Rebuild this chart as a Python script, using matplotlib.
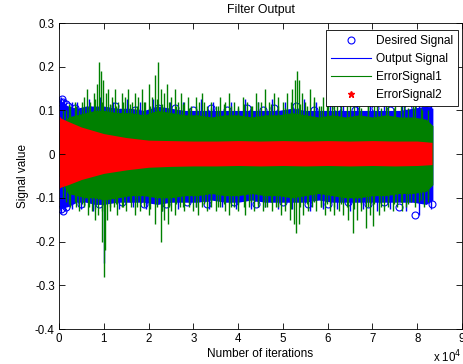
import matplotlib
matplotlib.use("Agg")
import matplotlib.pyplot as plt
from matplotlib.lines import Line2D

plt.rcParams['font.family'] = ['Liberation Sans', 'DejaVu Sans']
plt.rcParams['font.size'] = 8

# envelope positions (thousands of iterations)
env_x = [0, 2, 4, 6, 8, 10, 13, 16, 19, 22, 25, 28, 31, 34, 37, 40, 43, 46, 49,
         52, 55, 58, 61, 64, 67, 70, 73, 76, 79, 82, 83.5]
# Output signal (blue) dense band
blue_hi = [0.125, 0.11, 0.105, 0.11, 0.11, 0.11, 0.105, 0.105, 0.10, 0.11, 0.105,
           0.10, 0.10, 0.10, 0.10, 0.10, 0.10, 0.10, 0.10, 0.105, 0.10, 0.10,
           0.10, 0.10, 0.10, 0.10, 0.10, 0.10, 0.105, 0.11, 0.105]
blue_lo = [-0.125, -0.12, -0.11, -0.11, -0.115, -0.115, -0.11, -0.11, -0.11, -0.115,
           -0.11, -0.11, -0.11, -0.105, -0.11, -0.11, -0.105, -0.11, -0.11, -0.11,
           -0.11, -0.105, -0.11, -0.11, -0.11, -0.11, -0.11, -0.11, -0.11, -0.115, -0.105]
# ErrorSignal1 (green) dense band
green_hi = [0.05, 0.085, 0.09, 0.095, 0.10, 0.10, 0.095, 0.095, 0.09, 0.10, 0.095,
            0.09, 0.09, 0.085, 0.09, 0.09, 0.085, 0.09, 0.09, 0.095, 0.09, 0.085,
            0.09, 0.085, 0.09, 0.085, 0.09, 0.085, 0.085, 0.08, 0.065]
green_lo = [-0.05, -0.09, -0.095, -0.10, -0.10, -0.105, -0.10, -0.095, -0.095, -0.10,
            -0.10, -0.095, -0.095, -0.09, -0.095, -0.095, -0.09, -0.095, -0.095, -0.10,
            -0.095, -0.09, -0.095, -0.10, -0.10, -0.095, -0.095, -0.09, -0.09, -0.085, -0.07]

# ErrorSignal2 (red) band, decaying at start
red_x = [0, 0.5, 2, 5, 10, 15, 20, 25, 30, 35, 40, 45, 50, 55, 60, 65, 70, 75, 80, 83.3]
red_hi = [0.088, 0.082, 0.075, 0.062, 0.047, 0.038, 0.032, 0.031, 0.030, 0.030, 0.031,
          0.030, 0.031, 0.030, 0.031, 0.030, 0.031, 0.030, 0.030, 0.027]
red_lo = [-0.078, -0.075, -0.07, -0.058, -0.044, -0.036, -0.030, -0.028, -0.027, -0.027,
          -0.026, -0.027, -0.026, -0.027, -0.026, -0.027, -0.026, -0.027, -0.026, -0.024]

# green spikes
gup_x = [1.5, 2.5, 3.5, 4.5, 5.5, 6.2, 7.0, 7.8, 8.4, 9.0, 9.4, 9.8, 10.4, 11.0, 11.8,
         12.5, 13.2, 14.0, 14.8, 15.5, 16.3, 17.0, 17.7, 18.5, 19.2, 20.0, 20.8, 21.5,
         22.1, 22.7, 23.4, 24.2, 25.0, 25.8, 26.5, 27.3, 28.0, 28.8, 29.5, 30.5, 31.3,
         32.0, 33.0, 34.0, 35.0, 36.0, 37.0, 38.0, 39.0, 40.0, 41.0, 42.0, 43.0, 44.0,
         45.0, 46.0, 47.0, 48.0, 49.0, 50.0, 51.0, 52.0, 52.8, 53.2, 53.6, 54.2, 55.0,
         56.0, 57.0, 58.0, 59.0, 60.0, 61.0, 62.0, 63.0, 65.0, 67.0, 69.0, 71.0, 73.0,
         75.0, 77.0, 79.0, 81.0]
gup_y = [0.10, 0.11, 0.12, 0.10, 0.13, 0.15, 0.12, 0.14, 0.16, 0.21, 0.19, 0.17, 0.14,
         0.15, 0.13, 0.15, 0.12, 0.14, 0.13, 0.15, 0.12, 0.14, 0.13, 0.15, 0.12, 0.16,
         0.13, 0.18, 0.21, 0.15, 0.14, 0.16, 0.13, 0.15, 0.12, 0.14, 0.12, 0.13, 0.11,
         0.13, 0.12, 0.14, 0.11, 0.12, 0.11, 0.13, 0.12, 0.14, 0.12, 0.11, 0.13, 0.12,
         0.11, 0.14, 0.12, 0.15, 0.12, 0.14, 0.13, 0.12, 0.14, 0.15, 0.17, 0.19, 0.17,
         0.14, 0.12, 0.15, 0.13, 0.11, 0.13, 0.12, 0.13, 0.11, 0.12, 0.12, 0.11, 0.12,
         0.11, 0.12, 0.11, 0.12, 0.11, 0.10]
gdn_x = [1.5, 2.5, 3.5, 4.5, 5.5, 6.5, 7.3, 8.0, 8.7, 9.5, 10.0, 10.3, 10.8, 11.5, 12.3,
         13.0, 14.0, 15.0, 16.0, 17.0, 18.0, 19.0, 20.0, 21.5, 22.8, 23.5, 24.3, 25.0,
         26.0, 27.0, 28.0, 29.0, 30.0, 31.0, 32.0, 33.0, 34.0, 35.0, 36.0, 37.0, 38.0,
         39.0, 40.0, 41.5, 42.5, 43.5, 44.5, 45.5, 46.5, 47.5, 48.5, 49.5, 50.5, 51.5,
         52.5, 53.0, 53.5, 54.5, 55.5, 56.5, 57.5, 58.5, 59.5, 60.5, 61.5, 62.5, 63.5,
         64.5, 65.7, 66.5, 67.5, 68.5, 69.5, 70.2, 71.5, 72.5, 73.5, 74.5, 75.5, 76.5,
         77.5, 78.5, 79.5, 80.5, 81.5, 82.5]
gdn_y = [-0.11, -0.12, -0.11, -0.13, -0.12, -0.14, -0.13, -0.15, -0.14, -0.20, -0.28,
         -0.22, -0.15, -0.13, -0.12, -0.14, -0.12, -0.13, -0.12, -0.14, -0.13, -0.12,
         -0.14, -0.16, -0.20, -0.15, -0.16, -0.13, -0.14, -0.12, -0.13, -0.12, -0.13,
         -0.14, -0.12, -0.13, -0.12, -0.13, -0.12, -0.13, -0.14, -0.12, -0.13, -0.14,
         -0.12, -0.13, -0.12, -0.13, -0.12, -0.13, -0.12, -0.14, -0.13, -0.15, -0.16,
         -0.18, -0.16, -0.14, -0.13, -0.12, -0.13, -0.12, -0.14, -0.13, -0.14, -0.13,
         -0.14, -0.15, -0.18, -0.15, -0.13, -0.17, -0.14, -0.165, -0.14, -0.13, -0.12,
         -0.13, -0.12, -0.13, -0.12, -0.11, -0.12, -0.11, -0.12, -0.11]
# shorter green fringe spikes between the tall ones
gfr_x = [0.8, 2.2, 3.8, 5.2, 6.6, 8.1, 9.6, 11.3, 12.8, 14.4, 15.9, 17.4, 18.9, 20.4,
         21.8, 23.1, 24.6, 26.1, 27.6, 29.1, 30.7, 32.4, 33.9, 35.4, 36.9, 38.4, 39.9,
         41.4, 42.9, 44.4, 45.9, 47.4, 48.9, 50.4, 51.9, 53.9, 55.4, 56.9, 58.4, 59.9,
         61.4, 62.9, 64.4, 65.9, 67.4, 68.9, 70.4, 71.9, 73.4, 74.9, 76.4, 77.9, 79.4,
         80.9, 82.4]
gfr_hi = [0.10, 0.115, 0.11, 0.12, 0.11, 0.125, 0.12, 0.115, 0.11, 0.12, 0.115, 0.11,
          0.12, 0.11, 0.125, 0.115, 0.12, 0.11, 0.115, 0.105, 0.11, 0.12, 0.105, 0.11,
          0.115, 0.11, 0.105, 0.115, 0.11, 0.12, 0.11, 0.115, 0.11, 0.105, 0.12, 0.115,
          0.11, 0.12, 0.11, 0.115, 0.11, 0.105, 0.11, 0.115, 0.105, 0.11, 0.11, 0.105,
          0.11, 0.105, 0.11, 0.105, 0.11, 0.105, 0.10]
gfr_lo = [-0.10, -0.115, -0.12, -0.115, -0.12, -0.125, -0.13, -0.12, -0.115, -0.12,
          -0.11, -0.12, -0.115, -0.125, -0.12, -0.13, -0.12, -0.115, -0.12, -0.11,
          -0.12, -0.115, -0.11, -0.12, -0.115, -0.12, -0.115, -0.12, -0.11, -0.115,
          -0.12, -0.11, -0.12, -0.115, -0.125, -0.12, -0.115, -0.11, -0.12, -0.115,
          -0.12, -0.115, -0.12, -0.125, -0.115, -0.12, -0.115, -0.12, -0.11, -0.115,
          -0.11, -0.115, -0.11, -0.105, -0.10]

# blue spikes
bup_x = [0.4, 1.2, 2.8, 4.0, 6.8, 9.2, 12.0, 15.2, 18.0, 21.0, 24.8, 27.8, 31.8, 34.5,
         38.5, 41.5, 44.5, 47.5, 50.5, 54.8, 57.5, 60.5, 63.5, 66.5, 69.5, 72.5, 76.5,
         80.5, 83.0]
bup_y = [0.13, 0.125, 0.12, 0.12, 0.125, 0.13, 0.12, 0.125, 0.12, 0.125, 0.12, 0.12,
         0.125, 0.12, 0.12, 0.125, 0.12, 0.125, 0.12, 0.125, 0.12, 0.12, 0.12, 0.12,
         0.125, 0.12, 0.125, 0.125, 0.12]
bdn_x = [0.5, 1.4, 3.0, 5.0, 7.6, 10.1, 13.5, 16.5, 19.5, 23.0, 26.5, 30.5, 33.5, 36.5,
         39.5, 42.8, 46.0, 49.0, 52.0, 56.0, 59.0, 62.0, 65.0, 68.0, 71.0, 74.0, 77.5,
         80.5, 83.0]
bdn_y = [-0.135, -0.13, -0.125, -0.125, -0.13, -0.25, -0.125, -0.12, -0.125, -0.13,
         -0.125, -0.12, -0.125, -0.12, -0.125, -0.125, -0.12, -0.125, -0.125, -0.13,
         -0.125, -0.125, -0.13, -0.125, -0.13, -0.125, -0.13, -0.14, -0.125]

# desired signal circles near the edges
des_x = [0.2, 0.6, 1.0, 1.5, 2.0, 0.4, 0.9, 1.6, 3.5, 7.0, 12.5, 17.0, 22.0, 26.0,
         30.0, 34.0, 37.5, 42.0, 45.5, 48.0, 53.0, 57.0, 62.0, 66.0, 70.5, 74.0, 78.0,
         80.5, 82.5, 5.0, 9.0, 14.0, 19.0, 24.0, 28.5, 33.0, 39.0, 44.0, 50.0, 55.5,
         60.0, 64.5, 69.0, 72.5, 76.0, 79.5, 83.2]
des_y = [0.12, 0.125, 0.12, 0.115, 0.11, -0.125, -0.13, -0.12, 0.105, 0.10, 0.11, 0.10,
         0.105, 0.105, 0.10, 0.105, 0.10, 0.105, 0.10, 0.105, 0.11, 0.10, 0.105, 0.10,
         0.105, 0.10, 0.105, 0.11, 0.10, -0.115, -0.115, -0.11, -0.115, -0.115, -0.11,
         -0.115, -0.11, -0.115, -0.11, -0.115, -0.115, -0.11, -0.115, -0.11, -0.12,
         -0.14, -0.115]

BLUE = '#0000ff'
GREEN = '#008000'
RED = '#ff0000'

def k(vals):
    return [v * 1000 for v in vals]

fig = plt.figure(figsize=(4.63, 3.64), dpi=100)
ax = fig.add_axes([59 / 463, 1 - 329 / 364, 403 / 463, 306 / 364])

# MATLAB draw order: desired, output, error1, error2
ax.plot(k(des_x), des_y, 'o', mfc='none', mec=BLUE, ms=5, mew=0.8, zorder=1.0)
ax.fill_between(k(env_x), blue_lo, blue_hi, color=BLUE, lw=0, zorder=1.1)
ax.vlines(k(bup_x), 0, bup_y, color=BLUE, lw=1.0, zorder=1.1)
ax.vlines(k(bdn_x), bdn_y, 0, color=BLUE, lw=1.0, zorder=1.1)

ax.fill_between(k(env_x), green_lo, green_hi, color=GREEN, lw=0, zorder=1.2)
ax.vlines(k(gup_x), 0, gup_y, color=GREEN, lw=1.0, zorder=1.2)
ax.vlines(k(gdn_x), gdn_y, 0, color=GREEN, lw=1.0, zorder=1.2)
ax.vlines(k(gfr_x), 0, gfr_hi, color=GREEN, lw=1.0, zorder=1.2)
ax.vlines(k(gfr_x), gfr_lo, 0, color=GREEN, lw=1.0, zorder=1.2)

ax.fill_between(k(red_x), red_lo, red_hi, color=RED, lw=0, zorder=1.3)

ax.set_xlim(0, 90000)
ax.set_ylim(-0.4, 0.3)
ax.set_xticks([i * 10000 for i in range(10)])
ax.set_xticklabels([str(i) for i in range(10)])
ax.set_yticks([-0.4, -0.3, -0.2, -0.1, 0, 0.1, 0.2, 0.3])
ax.set_yticklabels(['-0.4', '-0.3', '-0.2', '-0.1', '0', '0.1', '0.2', '0.3'])
ax.tick_params(direction='in', top=True, right=True, length=4, width=0.6,
               labelsize=8.3, pad=3)
for s in ax.spines.values():
    s.set_linewidth(0.6)

ax.set_title('Filter Output', fontsize=8.8, pad=7)
ax.set_xlabel('Number of iterations', fontsize=8.5, labelpad=2)
ax.set_ylabel('Signal value', fontsize=8.5, labelpad=4)
fig.text(461 / 463, 1 - 357 / 364, 'x 10$^4$', fontsize=8.3, ha='right', va='center')

handles = [
    Line2D([], [], ls='none', marker='o', mfc='none', mec=BLUE, ms=5, mew=0.8),
    Line2D([], [], color=BLUE, lw=0.8),
    Line2D([], [], color=GREEN, lw=0.8),
    Line2D([], [], ls='none', marker='*', color=RED, ms=5),
]
labels = ['Desired Signal', 'Output Signal', 'ErrorSignal1', 'ErrorSignal2']
leg = ax.legend(handles, labels, loc='upper right', bbox_to_anchor=(0.99, 0.977),
                fontsize=8.6, frameon=True, fancybox=False, framealpha=1,
                edgecolor='black', handlelength=3.3, handletextpad=0.45,
                labelspacing=0.5, borderpad=0.4, borderaxespad=0)
leg.get_frame().set_linewidth(0.6)
leg.set_zorder(5)

fig.savefig('out.png', dpi=100)
